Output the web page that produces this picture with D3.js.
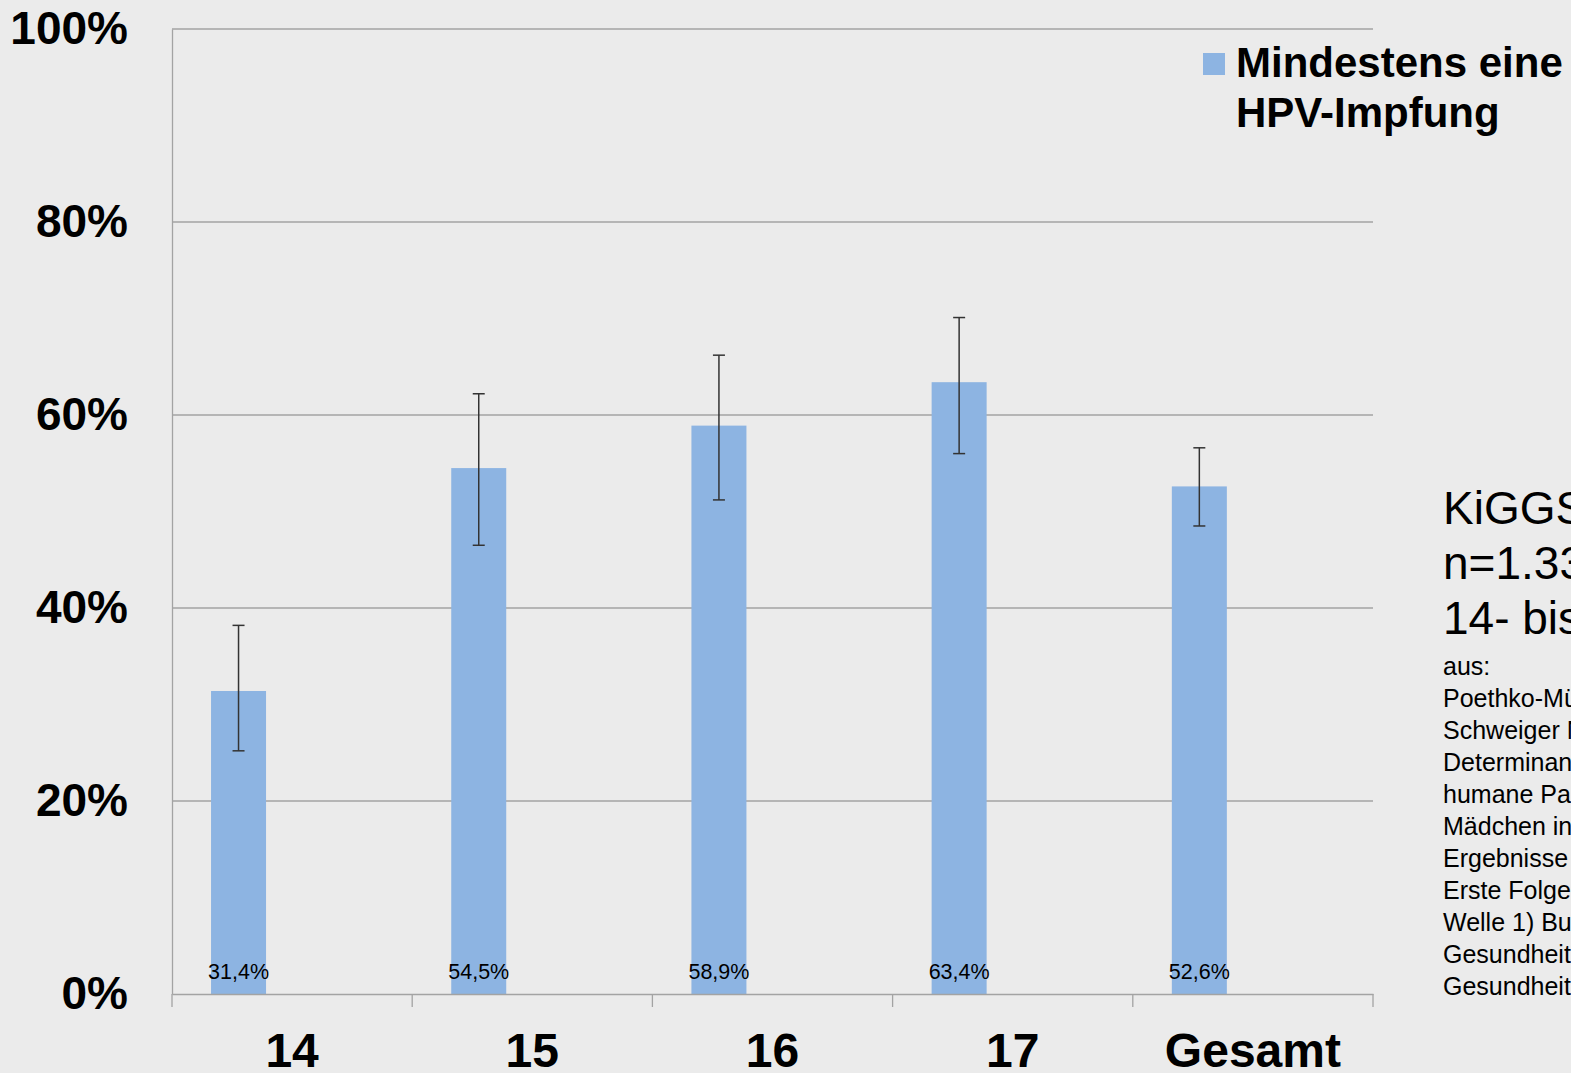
<!DOCTYPE html>
<html>
<head>
<meta charset="utf-8">
<script src="https://cdn.jsdelivr.net/npm/d3@7"></script>
<style>
  html, body { margin: 0; padding: 0; background: #ebebeb; overflow: hidden; }
  svg { display: block; font-family: "Liberation Sans", Arial, sans-serif; }
</style>
</head>
<body>
<svg id="chart" width="1571" height="1073"></svg>
<script>
/* ── Data ───────────────────────────────────────────────────────────────────── */
const categories = ["14", "15", "16", "17", "Gesamt"];
const values     = [31.4, 54.5, 58.9, 63.4, 52.6];   // Mindestens eine HPV-Impfung, %
const ciLow      = [25.2, 46.5, 51.2, 56.0, 48.5];
const ciHigh     = [38.2, 62.2, 66.2, 70.1, 56.6];
const yTicks     = [0, 20, 40, 60, 80, 100];

const legendLines = ["Mindestens eine", "HPV-Impfung"];
const infoLines   = ["KiGGS Welle 1", "n=1.333 Mädchen", "14- bis 17-Jährige"];
const sourceLines = [
  "aus:",
  "Poethko-Müller C, Buttmann-",
  "Schweiger N (2014) HPV-Impfquoten und",
  "Determinanten der Impfung gegen",
  "humane Papillomviren bei",
  "Mädchen in Deutschland.",
  "Ergebnisse der KiGGS-Studie:",
  "Erste Folgebefragung (KiGGS",
  "Welle 1) Bundesgesundheitsbl",
  "Gesundheitsforsch",
  "Gesundheitsschutz 57:869–877",
];

/* ── Layout ─────────────────────────────────────────────────────────────────── */
const M = { left: 172, right: 1373, top: 29, bottom: 994 };
const BAR = "#8db4e2";

const svg = d3.select("#chart");

const x = d3.scaleBand().domain(categories).range([M.left, M.right]).padding(0);
const y = d3.scaleLinear().domain([0, 100]).range([M.bottom, M.top]);
const bw = x.bandwidth();
const barOff = bw * 0.1625, barW = bw * 0.229;
const barCx = c => x(c) + barOff + barW / 2;

// Gridlines
svg.append("g")
  .selectAll("line")
  .data(yTicks.filter(t => t > 0))
  .join("line")
  .attr("x1", M.left).attr("x2", M.right)
  .attr("y1", d => y(d)).attr("y2", d => y(d))
  .attr("stroke", "#a3a3a3").attr("stroke-width", 1.3);

// Y axis
const yAxis = svg.append("g")
  .attr("transform", `translate(${M.left},0)`)
  .call(d3.axisLeft(y).tickValues(yTicks).tickSize(0).tickPadding(44).tickFormat(d => d + "%"));
yAxis.select(".domain").attr("stroke", "#a3a3a3").attr("stroke-width", 1.3);
yAxis.selectAll("text")
  .attr("font-size", 46).attr("font-weight", "bold").attr("fill", "#000")
  .attr("font-family", "'Liberation Sans', Arial, sans-serif");

// Bars
svg.append("g")
  .selectAll("rect")
  .data(values)
  .join("rect")
  .attr("x", (d, i) => x(categories[i]) + barOff)
  .attr("width", barW)
  .attr("y", d => y(d))
  .attr("height", d => y(0) - y(d))
  .attr("fill", BAR);

// X axis
const xAxis = svg.append("g")
  .attr("transform", `translate(0,${M.bottom})`)
  .call(d3.axisBottom(x).tickSize(0).tickPadding(39));
xAxis.select(".domain").attr("stroke", "#a3a3a3").attr("stroke-width", 1.3);
xAxis.selectAll("text")
  .attr("font-size", 48).attr("font-weight", "bold").attr("fill", "#000")
  .attr("font-family", "'Liberation Sans', Arial, sans-serif");
xAxis.selectAll("line.sep")
  .data(categories.concat([null]))
  .join("line")
  .attr("class", "sep")
  .attr("x1", (d, i) => M.left + i * bw).attr("x2", (d, i) => M.left + i * bw)
  .attr("y1", 0).attr("y2", 13)
  .attr("stroke", "#a3a3a3").attr("stroke-width", 1.3);

// Error bars
const eb = svg.append("g").attr("stroke", "#333").attr("stroke-width", 1.5);
categories.forEach((c, i) => {
  const cx = barCx(c);
  eb.append("line").attr("x1", cx).attr("x2", cx).attr("y1", y(ciHigh[i])).attr("y2", y(ciLow[i]));
  [ciHigh[i], ciLow[i]].forEach(v =>
    eb.append("line").attr("x1", cx - 6).attr("x2", cx + 6).attr("y1", y(v)).attr("y2", y(v)));
});

// Value labels
svg.append("g")
  .selectAll("text")
  .data(values)
  .join("text")
  .attr("x", (d, i) => barCx(categories[i]))
  .attr("y", 979)
  .attr("text-anchor", "middle")
  .attr("font-size", 21.5)
  .attr("fill", "#000")
  .text(d => d.toFixed(1).replace(".", ",") + "%");

/* ── Legend ─────────────────────────────────────────────────────────────────── */
svg.append("rect").attr("x", 1203).attr("y", 53).attr("width", 22).attr("height", 22).attr("fill", BAR);
svg.append("g")
  .selectAll("text")
  .data(legendLines)
  .join("text")
  .attr("x", 1236)
  .attr("y", (d, i) => 77 + i * 50)
  .attr("font-size", 42).attr("font-weight", "bold").attr("fill", "#000")
  .text(d => d);

/* ── Side notes ─────────────────────────────────────────────────────────────── */
svg.append("g")
  .selectAll("text")
  .data(infoLines)
  .join("text")
  .attr("x", 1443)
  .attr("y", (d, i) => 524 + i * 55)
  .attr("font-size", 46).attr("fill", "#000")
  .text(d => d);

svg.append("g")
  .selectAll("text")
  .data(sourceLines)
  .join("text")
  .attr("x", 1443)
  .attr("y", (d, i) => 675 + i * 32)
  .attr("font-size", 25).attr("fill", "#000")
  .text(d => d);
</script>
</body>
</html>
